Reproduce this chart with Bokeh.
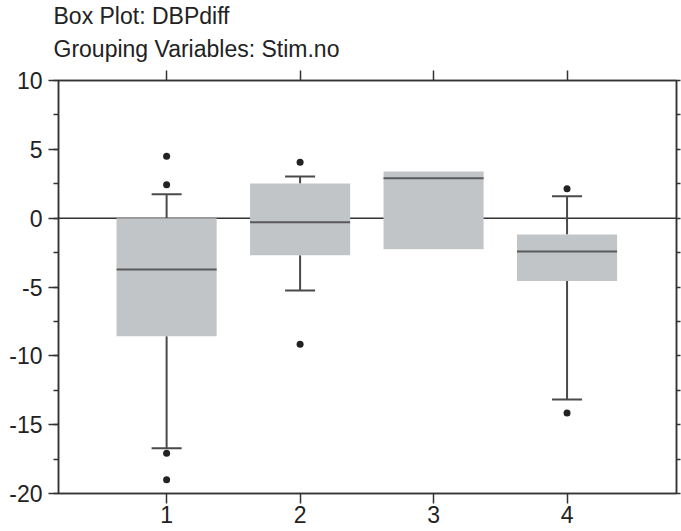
from bokeh.plotting import figure
from bokeh.models import (Range1d, LinearAxis, FixedTicker, Span, Title)
from bokeh.embed import file_html
from bokeh.resources import INLINE
import numpy as np

# ---- data ----
groups = [1, 2, 3, 4]
q1 = [-8.57, -2.69, -2.25, -4.57]
medians = [-3.73, -0.29, 2.90, -2.42]
q3 = [0.0, 2.52, 3.39, -1.18]
lower_whisker = [-16.72, -5.25, -2.25, -13.17]
upper_whisker = [1.74, 3.03, 3.39, 1.60]
outlier_x = [1, 1, 1, 1, 2, 2, 4, 4]
outlier_y = [4.50, 2.43, -17.07, -19.00, 4.07, -9.15, 2.13, -14.16]
y_ticks = [-20, -15, -10, -5, 0, 5, 10]
y_tick_labels = ["-20", "-15", "-10", "-5", "0", "5", "10"]
x_tick_labels = ["1", "2", "3", "4"]
title_lines = ["Box Plot: DBPdiff", "Grouping Variables: Stim.no"]

FONT = "Liberation Sans"
AX = "#333333"
BOX_W = 0.75
CAP_W = 0.225

p = figure(width=681, height=531, output_backend="svg", toolbar_location=None,
           x_range=Range1d(0.19, 4.82), y_range=Range1d(-20, 10),
           min_border_left=58, min_border_right=5, min_border_top=80,
           min_border_bottom=38, x_axis_location=None, y_axis_location=None,
           background_fill_color="white", border_fill_color="white")
p.xgrid.visible = False
p.ygrid.visible = False
p.outline_line_color = AX
p.outline_line_width = 1.5

def style(ax, tick_out):
    ax.axis_line_color = AX
    ax.axis_line_width = 1.5
    ax.major_tick_line_color = AX
    ax.major_tick_line_width = 1.5
    ax.minor_tick_line_color = AX
    ax.minor_tick_line_width = 1.5
    ax.major_tick_in = 0
    ax.major_tick_out = tick_out
    ax.minor_tick_in = 0
    ax.major_label_text_font = FONT
    ax.major_label_text_font_size = "23px"
    ax.major_label_text_color = "#222222"

# left axis
left = LinearAxis(ticker=FixedTicker(ticks=y_ticks,
                  minor_ticks=list(np.arange(-20, 10.01, 2.5))))
style(left, 10)
left.minor_tick_out = 5
left.major_label_standoff = 6
left.major_label_overrides = {t: s for t, s in zip(y_ticks, y_tick_labels)}
p.add_layout(left, "left")

# right axis (ticks only)
rticks = list(np.arange(-20, 10.01, 2.5))
right = LinearAxis(ticker=FixedTicker(ticks=rticks, minor_ticks=[]))
style(right, 4)
right.minor_tick_out = 0
right.major_label_overrides = {float(t): "" for t in rticks}
right.major_label_standoff = 0
p.add_layout(right, "right")

# bottom axis
bottom = LinearAxis(ticker=FixedTicker(ticks=groups, minor_ticks=[]))
style(bottom, 10)
bottom.minor_tick_out = 0
bottom.major_label_standoff = 2
bottom.major_label_overrides = {g: s for g, s in zip(groups, x_tick_labels)}
p.add_layout(bottom, "below")

# top axis (ticks only)
top = LinearAxis(ticker=FixedTicker(ticks=groups, minor_ticks=[]))
style(top, 10)
top.minor_tick_out = 0
top.major_label_overrides = {g: "" for g in groups}
top.major_label_standoff = 0
p.add_layout(top, "above")

# titles (line 2 nearest the frame, then line 1)
p.title.visible = False
for txt, so in [(title_lines[1], 18), (title_lines[0], -8)]:
    p.add_layout(Title(text=txt, text_font=FONT, text_font_size="23px",
                       text_font_style="normal", text_color="#222222",
                       align="left", offset=-5, standoff=so), "above")

# zero line
p.add_layout(Span(location=0, dimension="width", line_color=AX, line_width=1.5,
                  level="underlay"))

g = np.array(groups, dtype=float)
q1a, q3a = np.array(q1), np.array(q3)
lw, uw = np.array(lower_whisker), np.array(upper_whisker)

# whiskers (only where they extend beyond the box)
up = uw > q3a
dn = lw < q1a
WH = "#4a4a4a"
p.segment(g[up], q3a[up], g[up], uw[up], line_color=WH, line_width=2)
p.segment(g[dn], q1a[dn], g[dn], lw[dn], line_color=WH, line_width=2)
p.segment(g[up] - CAP_W / 2, uw[up], g[up] + CAP_W / 2, uw[up], line_color=WH, line_width=2)
p.segment(g[dn] - CAP_W / 2, lw[dn], g[dn] + CAP_W / 2, lw[dn], line_color=WH, line_width=2)

# boxes
p.vbar(x=groups, bottom=q1, top=q3, width=BOX_W, fill_color="#c2c5c8",
       line_color=None)
# medians
p.segment(g - BOX_W / 2, medians, g + BOX_W / 2, medians, line_color="#5a5a5a",
          line_width=2)

# outliers
p.scatter(outlier_x, outlier_y, size=7, fill_color="#222222", line_color=None)

open("out.html", "w").write(file_html(p, INLINE))
